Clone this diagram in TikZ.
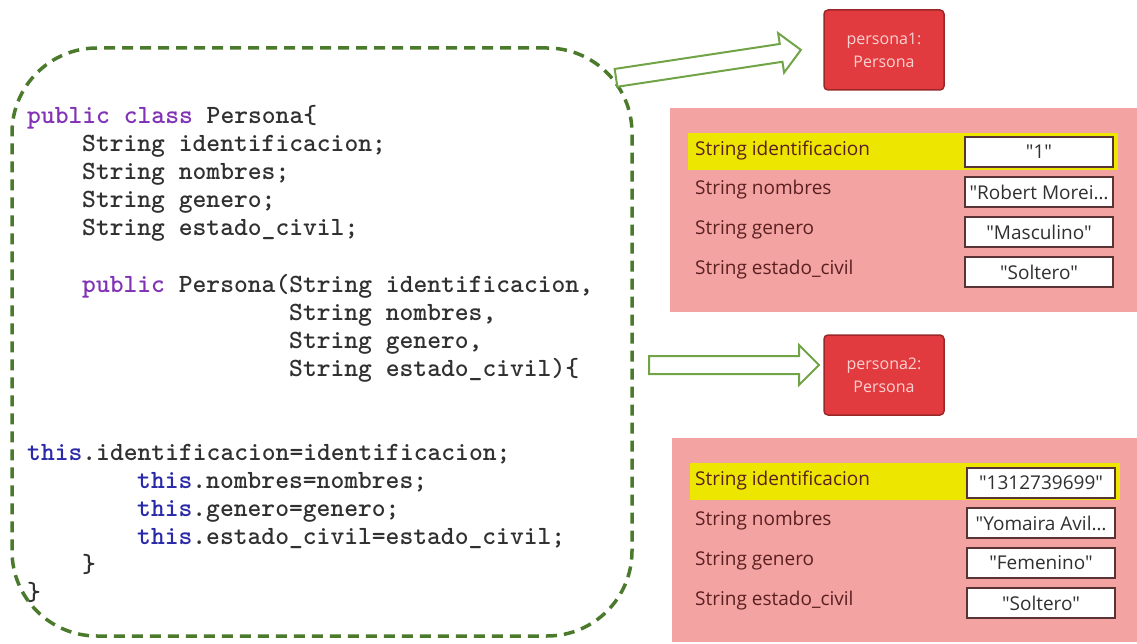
\documentclass[tikz,border=0pt]{standalone}
\usepackage{fontspec}
\newfontfamily\uifont{Open Sans}
\newfontfamily\codefont{lmmonolt10-bold}[Extension=.otf]
\usetikzlibrary{shapes.arrows}
\usetikzlibrary{positioning}

\definecolor{kwpurple}{HTML}{8232B4}
\definecolor{thisblue}{HTML}{2A2AA8}
\definecolor{codegray}{HTML}{303030}
\definecolor{dashgreen}{HTML}{4B7A2C}
\definecolor{arrowgreen}{HTML}{70A446}
\definecolor{objred}{HTML}{E23B3F}
\definecolor{objborder}{HTML}{9A2828}
\definecolor{objtext}{HTML}{FAD2D2}
\definecolor{panelpink}{HTML}{F4A3A3}
\definecolor{rowyellow}{HTML}{EDE600}
\definecolor{lbltext}{HTML}{5A2020}
\definecolor{valborder}{HTML}{5A3434}

\tikzset{
  classbox/.style={draw=dashgreen, line width=3.5pt, dash pattern=on 11pt off 7pt,
    rounded corners=85pt, minimum width=620pt, minimum height=588pt},
  code/.style={anchor=base west, text=codegray,
    font=\codefont\fontsize{26.3}{28}\selectfont},
  blockarrow/.style={single arrow, draw=arrowgreen, fill=white, line width=2pt,
    inner xsep=0pt, inner ysep=8pt, minimum width=0pt,
    single arrow head extend=11pt, anchor=tail},
  objbox/.style={draw=objborder, fill=objred, line width=1.5pt, rounded corners=4pt,
    minimum width=120pt, minimum height=80pt, align=center, text=objtext,
    font=\uifont\fontsize{16}{23}\selectfont},
  panel/.style={fill=panelpink, anchor=north west, minimum width=470pt, minimum height=204pt},
  hlrow/.style={fill=rowyellow, anchor=north west, minimum width=430pt, minimum height=37pt},
  lbl/.style={anchor=west, text=lbltext, font=\uifont\fontsize{19}{22}\selectfont},
  valbox/.style={draw=valborder, fill=white, line width=1.2pt, minimum width=148pt,
    minimum height=30pt, text=codegray, font=\uifont\fontsize{19}{22}\selectfont}
}

\begin{document}
\begin{tikzpicture}[x=1pt, y=-1pt, every node/.style={inner sep=0pt}]
\useasboundingbox (0,0) rectangle (1137,644);

% the class
\node[classbox] (cls) at (322,342) {};
\node[code] (c1) at (27,124) {{\color{kwpurple}public class} Persona\{};
\node[code] (c2) at (82,152) {String identificacion;};
\node[code] (c3) at (82,180) {String nombres;};
\node[code] (c4) at (82,208) {String genero;};
\node[code] (c5) at (82,236) {String estado\_civil;};
\node[code] (c6) at (82,292) {{\color{kwpurple}public} Persona(String identificacion,};
\node[code] (c7) at (289,320) {String nombres,};
\node[code] (c8) at (289,348) {String genero,};
\node[code] (c9) at (289,376) {String estado\_civil)\{};
\node[code] (c10) at (27,460) {{\color{thisblue}this}.identificacion=identificacion;};
\node[code] (c11) at (137,488) {{\color{thisblue}this}.nombres=nombres;};
\node[code] (c12) at (137,516) {{\color{thisblue}this}.genero=genero;};
\node[code] (c13) at (137,544) {{\color{thisblue}this}.estado\_civil=estado\_civil;};
\node[code] (c14) at (82,572) {\}};
\node[code] (c15) at (27,600) {\}};

% objects
\node[objbox] (obj1) at (884,50) {persona1:\\Persona};
\node[objbox] (obj2) at (884,375) {persona2:\\Persona};

\coordinate (t1) at (615,78);
\coordinate (t2) at (648,365);
\node[blockarrow, rotate=8.6, minimum height=187pt] (arr1) at (t1) {};
\node[blockarrow, minimum height=170pt] (arr2) at (t2) {};

% first object
\node[panel] (pan1) at (670,108) {};
\node[hlrow] (hl1) at (688,133) {};
\node[lbl] (l11) at (695,151) {String identificacion};
\node[lbl] (l12) at (695,190) {String nombres};
\node[lbl] (l13) at (695,230) {String genero};
\node[lbl] (l14) at (695,270) {String estado\_civil};
\node[valbox] (v11) at (1039,152) {"1"};
\node[valbox] (v12) at (1039,192) {"Robert Morei…};
\node[valbox] (v13) at (1039,232) {"Masculino"};
\node[valbox] (v14) at (1039,272) {"Soltero"};

% second object
\node[panel] (pan2) at (672,438) {};
\node[hlrow] (hl2) at (690,463) {};
\node[lbl] (l21) at (695,481) {String identificacion};
\node[lbl] (l22) at (695,521) {String nombres};
\node[lbl] (l23) at (695,561) {String genero};
\node[lbl] (l24) at (695,601) {String estado\_civil};
\node[valbox] (v21) at (1041,483) {"1312739699"};
\node[valbox] (v22) at (1041,523) {"Yomaira Avil…};
\node[valbox] (v23) at (1041,563) {"Femenino"};
\node[valbox] (v24) at (1041,603) {"Soltero"};
\end{tikzpicture}
\end{document}
